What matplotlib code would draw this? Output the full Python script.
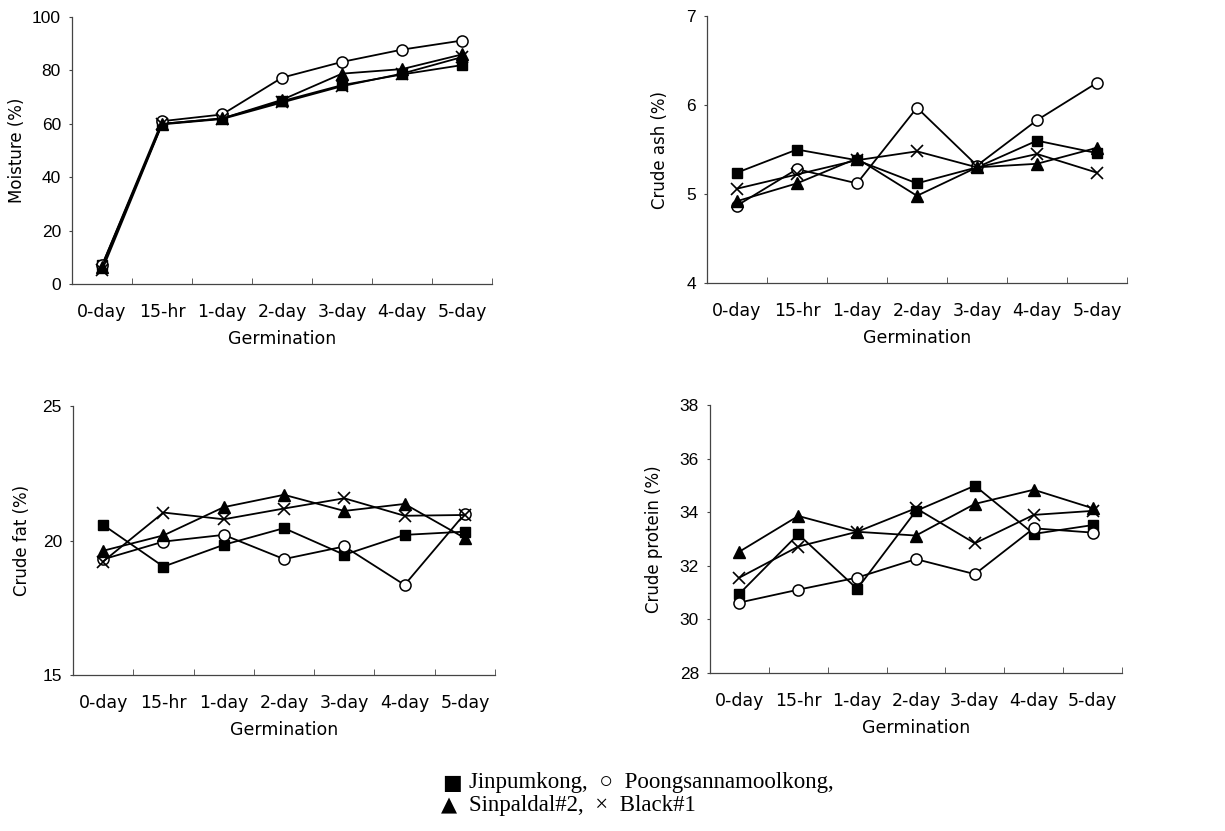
import matplotlib
matplotlib.use("Agg")
import matplotlib.pyplot as plt
import numpy as np

categories = ['0-day', '15-hr', '1-day', '2-day', '3-day', '4-day', '5-day']
varieties = ['Jinpumkong', 'Poongsannamoolkong', 'Sinpaldal#2', 'Black#1']

moisture_jin = [7.0, 60.0, 62.0, 68.5, 74.5, 78.5, 82.0]
moisture_poong = [7.0, 61.0, 63.5, 77.3, 83.2, 87.8, 91.2]
moisture_sin = [6.5, 60.0, 62.0, 69.0, 78.8, 80.5, 86.0]
moisture_black = [5.1, 59.8, 61.8, 68.0, 74.1, 78.8, 85.0]

ash_jin = [5.24, 5.50, 5.38, 5.12, 5.30, 5.60, 5.46]
ash_poong = [4.87, 5.28, 5.12, 5.97, 5.32, 5.83, 6.25]
ash_sin = [4.92, 5.12, 5.40, 4.98, 5.30, 5.34, 5.52]
ash_black = [5.06, 5.22, 5.38, 5.48, 5.30, 5.45, 5.24]

fat_jin = [20.58, 19.03, 19.84, 20.46, 19.47, 20.21, 20.33]
fat_poong = [19.3, 19.96, 20.21, 19.31, 19.78, 18.35, 21.0]
fat_sin = [19.62, 20.19, 21.24, 21.70, 21.10, 21.36, 20.09]
fat_black = [19.22, 21.04, 20.79, 21.19, 21.57, 20.92, 20.95]

prot_jin = [30.96, 33.18, 31.14, 34.05, 34.99, 33.19, 33.52]
prot_poong = [30.63, 31.11, 31.56, 32.25, 31.69, 33.40, 33.24]
prot_sin = [32.53, 33.86, 33.27, 33.13, 34.31, 34.84, 34.15]
prot_black = [31.56, 32.72, 33.27, 34.15, 32.84, 33.90, 34.05]

panels = [
    ("Moisture (%)", [moisture_jin, moisture_poong, moisture_sin, moisture_black], (0, 100), np.arange(0, 101, 20)),
    ("Crude ash (%)", [ash_jin, ash_poong, ash_sin, ash_black], (4, 7), np.arange(4, 8, 1)),
    ("Crude fat (%)", [fat_jin, fat_poong, fat_sin, fat_black], (15, 25), [15, 20, 25]),
    ("Crude protein (%)", [prot_jin, prot_poong, prot_sin, prot_black], (28, 38), np.arange(28, 39, 2)),
]

# figure-fraction boxes [left, bottom, width, height]
boxes = [
    [0.0588, 0.6582, 0.3429, 0.3213],
    [0.5771, 0.6594, 0.3429, 0.3213],
    [0.0596, 0.1877, 0.3445, 0.3237],
    [0.5796, 0.1901, 0.3363, 0.3225],
]
label_pads = [4, 12, 8, 12]

styles = [
    dict(marker='s', mfc='black', mec='black', ms=7.5),
    dict(marker='o', mfc='white', mec='black', ms=8, mew=1.1),
    dict(marker='^', mfc='black', mec='black', ms=8),
    dict(marker='x', mfc='none', mec='black', ms=9, mew=1.2),
]

fig = plt.figure(figsize=(12.25, 8.31), dpi=100)
x = np.arange(len(categories))

for (ylabel, series, ylim, yticks), box, lp in zip(panels, boxes, label_pads):
    ax = fig.add_axes(box)
    for vals, st in zip(series, styles):
        ax.plot(x, vals, color='black', lw=1.3, **st)
    ax.set_xlim(-0.5, len(categories) - 0.5)
    ax.set_ylim(*ylim)
    ax.set_yticks(yticks)
    ax.set_xticks(x)
    ax.set_xticklabels(categories, fontsize=12.5, family='DejaVu Sans')
    ax.set_xticks(np.arange(0.5, len(categories), 1), minor=True)
    ax.tick_params(axis='x', which='major', length=0, pad=14)
    ax.tick_params(axis='x', which='minor', direction='in', length=4, color='#444')
    ax.tick_params(axis='y', direction='out', length=2, color='#444', pad=6)
    for lab in ax.get_yticklabels():
        lab.set_family('Liberation Sans')
        lab.set_fontsize(12.5)
    ax.set_ylabel(ylabel, fontsize=12, labelpad=lp, family='DejaVu Sans')
    ax.set_xlabel('Germination', fontsize=12.5, labelpad=6, family='DejaVu Sans')
    for s in ['top', 'right']:
        ax.spines[s].set_visible(False)
    for s in ['left', 'bottom']:
        ax.spines[s].set_color('#444')
        ax.spines[s].set_linewidth(0.9)

legend_font = ['Liberation Serif', 'DejaVu Serif']
fig.text(0.361, 0.0578, '\u25A0', fontsize=15, family='DejaVu Sans', va='center', ha='left')
fig.text(0.360, 0.0310, '\u25B2', fontsize=15, family='DejaVu Sans', va='center', ha='left')
fig.text(0.383, 0.0578, varieties[0] + ',  \u25CB  ' + varieties[1] + ',',
         fontsize=16.5, family=legend_font, va='center', ha='left')
fig.text(0.383, 0.0310, varieties[2] + ',  \u00D7  ' + varieties[3],
         fontsize=16.5, family=legend_font, va='center', ha='left')

fig.savefig('out.png', dpi=100)
